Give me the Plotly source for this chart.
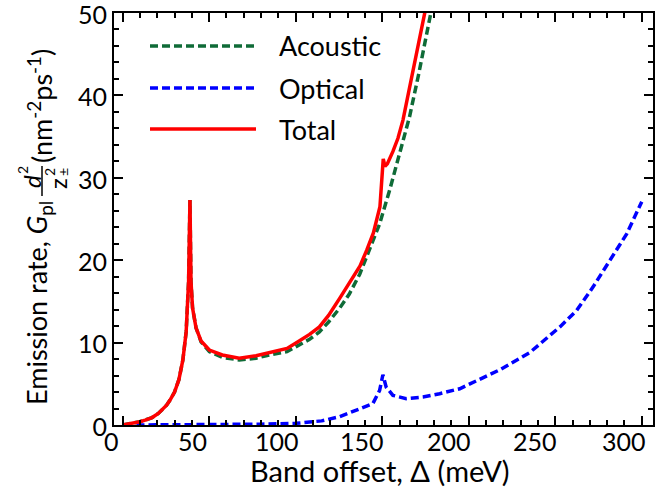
import plotly.graph_objects as go

# ---------------- data ----------------
acoustic_x = [0, 5, 10, 13, 17, 20.6, 25.4, 27.3, 30, 32.5, 34.8, 36.7, 38.1, 38.9, 39.5, 40.4, 42.4,
              45.3, 50.1, 57.6, 67.4, 77.1, 84.8, 95, 102, 108, 113.7, 119, 125.5, 131, 137, 142.5, 148.5,
              154.3, 160, 165.8, 171, 177.4, 180]
acoustic_y = [0, 0.15, 0.4, 0.6, 0.9, 1.4, 2.4, 3.0, 4.0, 5.5, 7.9, 11.3, 17.4, 27.3, 17.4, 14.2, 11.8,
              10.1, 8.9, 8.2, 7.9, 8.1, 8.5, 8.9, 9.7, 10.4, 11.3, 12.5, 14.2, 15.9, 18.3, 21.1, 24.4,
              28.5, 32.8, 37.4, 42.5, 49.7, 52]

optical_x = [8, 20, 40, 60, 80, 100, 115, 125.3, 135, 144.6, 148.5, 150.4, 152.3, 156.2, 163.9,
             173.5, 183.2, 194.8, 218, 235.3, 252.7, 262.4, 272, 281.7, 291.3, 300]
optical_y = [0, 0, 0.02, 0.05, 0.1, 0.2, 0.5, 1.0, 1.8, 2.6, 4.2, 6.1, 4.6, 3.6, 3.2,
             3.4, 3.8, 4.4, 6.7, 8.8, 11.9, 13.9, 16.8, 20.0, 23.2, 27.1]

total_x = [0, 5, 10, 13, 17, 20.6, 25.4, 27.3, 30, 32.5, 34.8, 36.7, 38.1, 38.9, 39.5, 40.4, 42.4,
           45.3, 50.1, 57.6, 67.4, 77.1, 84.8, 95, 102, 108, 113.7, 119, 125.5, 129.5, 133, 137.2, 141,
           144.9, 148.7, 149.8, 150.6, 151.6, 153, 156.2, 159.1, 162, 165, 168, 171.5, 174.5, 177]
total_y = [0, 0.15, 0.4, 0.6, 0.9, 1.4, 2.4, 3.0, 4.0, 5.5, 7.9, 11.3, 17.4, 27.3, 17.4, 14.2, 11.8,
           10.2, 9.1, 8.5, 8.1, 8.4, 8.8, 9.3, 10.2, 11.0, 11.9, 13.3, 15.4, 16.8, 17.9, 19.3, 21.2,
           23.3, 26.5, 29.5, 32.3, 31.4, 31.7, 33.2, 34.8, 37.0, 40.0, 43.3, 46.8, 50, 52.5]

series_names = ["Acoustic", "Optical", "Total"]
x_ticks = [0, 50, 100, 150, 200, 250, 300]
y_ticks = [0, 10, 20, 30, 40, 50]

GREEN = "#0f6b37"
BLUE = "#0000ff"
RED = "#ff0000"
FONT = "Lato"

# plot-area geometry (pixels) used for decorations outside the data
L, R, T, B = 114, 653, 13, 425
W, H = 661, 498
# in the reference the x tick labels sit a little left of their ticks
x_label_shift = [-11, -17, -19, -20, -20, -20, -18]


def px(x):
    return (x - L) / (R - L)


def py(y):
    return (B - y) / (B - T)


fig = go.Figure()
fig.add_trace(go.Scatter(x=acoustic_x, y=acoustic_y, mode="lines", name=series_names[0],
                         line=dict(color=GREEN, width=3.5, dash="8px,4px")))
fig.add_trace(go.Scatter(x=optical_x, y=optical_y, mode="lines", name=series_names[1],
                         line=dict(color=BLUE, width=3.5, dash="8px,4px")))
fig.add_trace(go.Scatter(x=total_x, y=total_y, mode="lines", name=series_names[2],
                         line=dict(color=RED, width=3.5)))

axis_common = dict(
    showline=True, linecolor="black", linewidth=2, mirror="ticks",
    ticks="inside", ticklen=9, tickwidth=1.8, tickcolor="black",
    showgrid=False, zeroline=False, automargin=False,
    tickfont=dict(family=FONT, size=25, color="black"),
)

fig.update_xaxes(range=[-5, 306.5], tickvals=x_ticks, showticklabels=False,
                 minor=dict(dtick=10, tick0=0, ticks="inside", ticklen=5, tickwidth=1.5, tickcolor="black"),
                 **axis_common)
fig.update_yaxes(range=[0, 50], tickvals=y_ticks, ticktext=[str(v) for v in y_ticks],
                 ticklabeloverflow="allow", ticklabelshift=2,
                 minor=dict(dtick=2, tick0=0, ticks="inside", ticklen=5, tickwidth=1.5, tickcolor="black"),
                 **axis_common)

shapes = []
annotations = []

for v, sh in zip(x_ticks, x_label_shift):
    annotations.append(dict(text=str(v), xref="x", yref="paper", x=v, y=0, xanchor="center", yanchor="top",
                            xshift=sh, yshift=1, showarrow=False,
                            font=dict(family=FONT, size=25, color="black")))

# x-axis title
annotations.append(dict(text="Band offset, Δ (meV)", xref="paper", yref="paper", x=px(380), y=py(470),
                        xanchor="center", yanchor="middle", showarrow=False,
                        font=dict(family=FONT, size=29, color="black")))

# manual legend
legend_rows = [(46, GREEN, "8px,4px"), (88, BLUE, "8px,4px"), (129, RED, "solid")]
for (yy, col, dash), name in zip(legend_rows, series_names):
    shapes.append(dict(type="line", xref="paper", yref="paper", x0=px(150), x1=px(256), y0=py(yy), y1=py(yy),
                       line=dict(color=col, width=3.5, dash=dash)))
    annotations.append(dict(text=name, xref="paper", yref="paper", x=px(277), y=py(yy), xanchor="left",
                            yanchor="middle", showarrow=False, font=dict(family=FONT, size=27, color="black")))

# y-axis title pieces (rotated)
ytf = dict(family=FONT, size=27, color="black")
annotations.append(dict(text="Emission rate, <i>G</i><sub>pl</sub>", xref="paper", yref="paper",
                        x=px(38), y=py(303), textangle=-90, showarrow=False, font=ytf,
                        xanchor="center", yanchor="middle"))
annotations.append(dict(text="<i>d</i>", xref="paper", yref="paper", x=px(31), y=py(182), textangle=-90,
                        showarrow=False, font=dict(family=FONT, size=24, color="black"),
                        xanchor="center", yanchor="middle"))
annotations.append(dict(text="2", xref="paper", yref="paper", x=px(22), y=py(170), textangle=-90,
                        showarrow=False, font=dict(family=FONT, size=14, color="black"),
                        xanchor="center", yanchor="middle"))
annotations.append(dict(text="z", xref="paper", yref="paper", x=px(57), y=py(184), textangle=-90,
                        showarrow=False, font=dict(family=FONT, size=24, color="black"),
                        xanchor="center", yanchor="middle"))
annotations.append(dict(text="2", xref="paper", yref="paper", x=px(49), y=py(172), textangle=-90,
                        showarrow=False, font=dict(family=FONT, size=14, color="black"),
                        xanchor="center", yanchor="middle"))
annotations.append(dict(text="±", xref="paper", yref="paper", x=px(63), y=py(172), textangle=-90,
                        showarrow=False, font=dict(family=FONT, size=14, color="black"),
                        xanchor="center", yanchor="middle"))
shapes.append(dict(type="line", xref="paper", yref="paper", x0=px(42), x1=px(42), y0=py(166), y1=py(196),
                   line=dict(color="black", width=1.5)))
annotations.append(dict(text="(nm<sup>-2</sup>ps<sup>-1</sup>)", xref="paper", yref="paper",
                        x=px(40), y=py(106), textangle=-90, showarrow=False, font=ytf,
                        xanchor="center", yanchor="middle"))

fig.update_layout(
    width=W, height=H,
    margin=dict(l=L, r=W - R, t=T, b=H - B, autoexpand=False),
    plot_bgcolor="white", paper_bgcolor="white",
    showlegend=False,
    shapes=shapes, annotations=annotations,
)

fig.write_html("out.html")
